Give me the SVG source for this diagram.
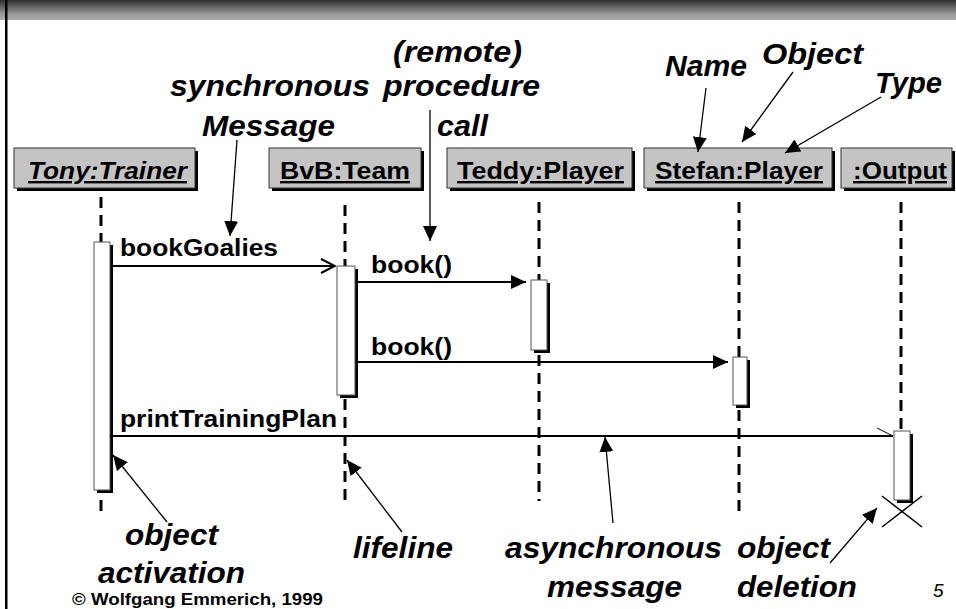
<svg xmlns="http://www.w3.org/2000/svg" width="956" height="609" viewBox="0 0 956 609">
<defs>
<linearGradient id="hdr" x1="0" y1="0" x2="0" y2="1">
<stop offset="0" stop-color="#2e2e2e"/>
<stop offset="0.7" stop-color="#9a9a9a"/>
<stop offset="1" stop-color="#ababab"/>
</linearGradient>
<marker id="ann" markerUnits="userSpaceOnUse" markerWidth="16" markerHeight="14" refX="15" refY="7" orient="auto">
<path d="M0,0 L15,7 L0,14 z" fill="#000"/>
</marker>
<marker id="msg" markerUnits="userSpaceOnUse" markerWidth="16" markerHeight="14" refX="15" refY="7" orient="auto">
<path d="M0,0 L15,7 L0,14 z" fill="#000"/>
</marker>
<marker id="open" markerUnits="userSpaceOnUse" markerWidth="16" markerHeight="16" refX="15" refY="8" orient="auto">
<path d="M1,1 L15,8 L1,15" fill="none" stroke="#000" stroke-width="2"/>
</marker>
</defs>
<style>
.box{fill:#c4c4c4;stroke:#333;stroke-width:1}
.shadow{fill:#000}
.bl{font-family:"Liberation Sans",Arial,sans-serif;font-weight:bold;font-size:24px;fill:#000;text-decoration:underline}
.act{fill:#fff;stroke:#555;stroke-width:1}
.life{stroke:#000;stroke-width:3;stroke-dasharray:11 7;fill:none}
.ml{font-family:"Liberation Sans",Arial,sans-serif;font-weight:bold;font-size:23px;fill:#000}
.an{font-family:"Liberation Sans",Arial,sans-serif;font-weight:bold;font-style:italic;font-size:30px;fill:#000}
.aline{stroke:#000;stroke-width:1.3;fill:none;marker-end:url(#ann)}
.mline{stroke:#000;stroke-width:2;fill:none}
</style>
<rect x="0" y="0" width="956" height="609" fill="#fff"/>
<rect x="0" y="0" width="956" height="20" fill="url(#hdr)"/>
<rect x="5" y="0" width="2.5" height="609" fill="#000"/>

<g id="tony">
<rect class="shadow" x="17" y="151" width="181" height="40"/>
<rect class="box" x="14" y="148" width="181" height="40"/>
<text class="bl" x="28" y="179" font-style="italic" textLength="159" lengthAdjust="spacingAndGlyphs">Tony:Trainer</text>
<line class="life" x1="101" y1="197" x2="101" y2="242"/>
<line class="life" x1="101" y1="500" x2="101" y2="514"/>
<rect class="shadow" x="97" y="245" width="16" height="248"/>
<rect class="act" x="94" y="242" width="16" height="248"/>
</g>
<g id="bvb">
<rect class="shadow" x="272" y="151" width="152" height="40"/>
<rect class="box" x="269" y="148" width="152" height="40"/>
<text class="bl" x="280" y="179" textLength="130" lengthAdjust="spacingAndGlyphs">BvB:Team</text>
<line class="life" x1="345" y1="205" x2="345" y2="266"/>
<line class="life" x1="345" y1="399" x2="345" y2="505"/>
<rect class="shadow" x="340" y="269" width="18" height="129"/>
<rect class="act" x="337" y="266" width="18" height="129"/>
</g>
<g id="teddy">
<rect class="shadow" x="450" y="151" width="185" height="40"/>
<rect class="box" x="447" y="148" width="185" height="40"/>
<text class="bl" x="457" y="179" textLength="167" lengthAdjust="spacingAndGlyphs">Teddy:Player</text>
<line class="life" x1="539" y1="202" x2="539" y2="280"/>
<line class="life" x1="539" y1="355" x2="539" y2="501"/>
<rect class="shadow" x="534" y="283" width="16" height="70"/>
<rect class="act" x="531" y="280" width="16" height="70"/>
</g>
<g id="stefan">
<rect class="shadow" x="647" y="151" width="188" height="40"/>
<rect class="box" x="644" y="148" width="188" height="40"/>
<text class="bl" x="655" y="179" textLength="168" lengthAdjust="spacingAndGlyphs">Stefan:Player</text>
<line class="life" x1="739" y1="202" x2="739" y2="357"/>
<line class="life" x1="739" y1="410" x2="739" y2="516"/>
<rect class="shadow" x="736" y="360" width="14" height="48"/>
<rect class="act" x="733" y="357" width="14" height="48"/>
</g>
<g id="output">
<rect class="shadow" x="844" y="151" width="111" height="40"/>
<rect class="box" x="841" y="148" width="111" height="40"/>
<text class="bl" x="853" y="179" textLength="94" lengthAdjust="spacingAndGlyphs">:Output</text>
<line class="life" x1="901" y1="202" x2="901" y2="431"/>
<rect class="shadow" x="897" y="434" width="16" height="69"/>
<rect class="act" x="894" y="431" width="16" height="69"/>
<line x1="882" y1="496" x2="922" y2="527" stroke="#000" stroke-width="1.5"/>
<line x1="922" y1="496" x2="882" y2="527" stroke="#000" stroke-width="1.5"/>
</g>

<g id="connectors">
<line class="mline" x1="111" y1="266" x2="335" y2="266" marker-end="url(#open)"/>
<text class="ml" x="120" y="256" textLength="158" lengthAdjust="spacingAndGlyphs">bookGoalies</text>
<line class="mline" x1="358" y1="282" x2="526" y2="282" marker-end="url(#msg)"/>
<text class="ml" x="371" y="273" textLength="81" lengthAdjust="spacingAndGlyphs">book()</text>
<line class="mline" x1="358" y1="362" x2="728" y2="362" marker-end="url(#msg)"/>
<text class="ml" x="371" y="355" textLength="81" lengthAdjust="spacingAndGlyphs">book()</text>
<line class="mline" x1="110" y1="436" x2="893" y2="436"/>
<line x1="877" y1="428" x2="893" y2="436" stroke="#000" stroke-width="1"/>
<text class="ml" x="120" y="427" textLength="217" lengthAdjust="spacingAndGlyphs">printTrainingPlan</text>

<line class="aline" x1="237" y1="140" x2="230" y2="236"/>
<line class="aline" x1="430" y1="110" x2="430" y2="241"/>
<line class="aline" x1="706" y1="88" x2="698" y2="152"/>
<line class="aline" x1="793" y1="72" x2="742" y2="142"/>
<line class="aline" x1="881" y1="97" x2="785" y2="153"/>
<line class="aline" x1="167" y1="522" x2="113" y2="455"/>
<line class="aline" x1="402" y1="532" x2="347" y2="460"/>
<line class="aline" x1="613" y1="523" x2="605" y2="437"/>
<line class="aline" x1="830" y1="563" x2="877" y2="508"/>
</g>

<g id="annotations">
<text class="an" x="393" y="62" textLength="129" lengthAdjust="spacingAndGlyphs">(remote)</text>
<text class="an" x="170" y="96" textLength="200" lengthAdjust="spacingAndGlyphs">synchronous</text>
<text class="an" x="383" y="96" textLength="157" lengthAdjust="spacingAndGlyphs">procedure</text>
<text class="an" x="202" y="136" textLength="133" lengthAdjust="spacingAndGlyphs">Message</text>
<text class="an" x="437" y="136" textLength="51" lengthAdjust="spacingAndGlyphs">call</text>
<text class="an" x="665" y="76" textLength="82" lengthAdjust="spacingAndGlyphs">Name</text>
<text class="an" x="762" y="64" textLength="101" lengthAdjust="spacingAndGlyphs">Object</text>
<text class="an" x="875" y="93" textLength="67" lengthAdjust="spacingAndGlyphs">Type</text>
<text class="an" x="125" y="545" textLength="93" lengthAdjust="spacingAndGlyphs">object</text>
<text class="an" x="98" y="583" textLength="147" lengthAdjust="spacingAndGlyphs">activation</text>
<text class="an" x="353" y="558" textLength="100" lengthAdjust="spacingAndGlyphs">lifeline</text>
<text class="an" x="505" y="558" textLength="217" lengthAdjust="spacingAndGlyphs">asynchronous</text>
<text class="an" x="547" y="597" textLength="135" lengthAdjust="spacingAndGlyphs">message</text>
<text class="an" x="737" y="558" textLength="93" lengthAdjust="spacingAndGlyphs">object</text>
<text class="an" x="737" y="597" textLength="120" lengthAdjust="spacingAndGlyphs">deletion</text>
<text x="72" y="605" font-family="'Liberation Sans',Arial,sans-serif" font-weight="bold" font-size="16" textLength="251" lengthAdjust="spacingAndGlyphs">© Wolfgang Emmerich, 1999</text>
<text x="933" y="597" font-family="'Liberation Sans',Arial,sans-serif" font-style="italic" font-size="19">5</text>
</g>
</svg>
